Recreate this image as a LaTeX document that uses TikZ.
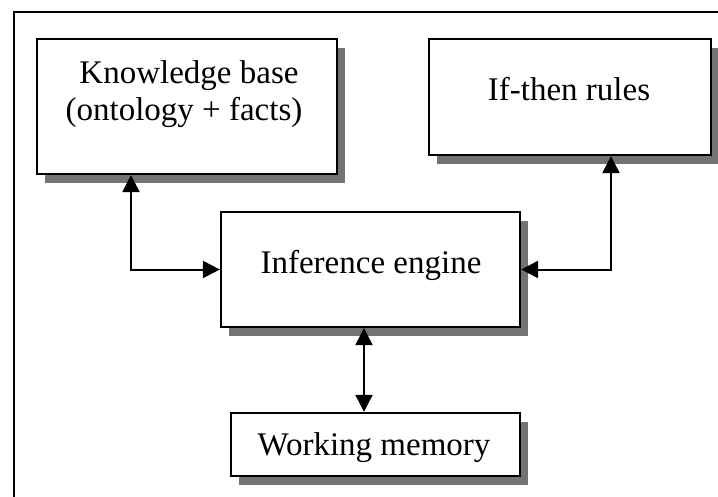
\documentclass[tikz,border=0pt]{standalone}
\usepackage{fontspec}
\setmainfont{Liberation Serif}
\usetikzlibrary{arrows.meta,shadows}
\begin{document}
\begin{tikzpicture}[x=1pt,y=-1pt,
  box/.style={draw=black, line width=2.2pt, fill=white, inner sep=0pt,
    drop shadow={shadow xshift=8pt, shadow yshift=-9pt, fill=black!55, opacity=1}},
  lbl/.style={anchor=base, inner sep=0pt, font=\fontsize{33}{36}\selectfont},
  conn/.style={line width=2pt, {Triangle[length=17pt,width=17pt]}-{Triangle[length=17pt,width=17pt]}},
  frame/.style={line width=2pt}]
\useasboundingbox (0,0) rectangle (718,496);
% outer frame (cropped)
\coordinate (ftl) at (14,11.5);
\coordinate (ftr) at (720,11.5);
\coordinate (fbl) at (14,498);
\draw[frame] (fbl) -- (ftl) -- (ftr);
% boxes
\node[box, minimum width=300pt, minimum height=135pt] (kb) at (187,106.5) {};
\node[box, minimum width=282pt, minimum height=116pt] (ifr) at (570,97) {};
\node[box, minimum width=299pt, minimum height=115pt] (ie) at (370.5,269.5) {};
\node[box, minimum width=289pt, minimum height=63pt] (wm) at (375.5,444.5) {};
% labels
\node[lbl] (kbt1) at (189,83) {Knowledge base};
\node[lbl] (kbt2) at (184,120) {(ontology + facts)};
\node[lbl] (ifrt) at (569,100) {If-then rules};
\node[lbl] (iet) at (371,273) {Inference engine};
\node[lbl] (wmt) at (374,455) {Working memory};
% connectors
\coordinate (kbx) at (131,0);
\coordinate (ifx) at (611,0);
\coordinate (mx) at (364,0);
\draw[conn] (kb.south -| kbx) |- (ie.west);
\draw[conn] (ifr.south -| ifx) |- (ie.east);
\draw[conn] (ie.south -| mx) -- (wm.north -| mx);
\end{tikzpicture}
\end{document}
